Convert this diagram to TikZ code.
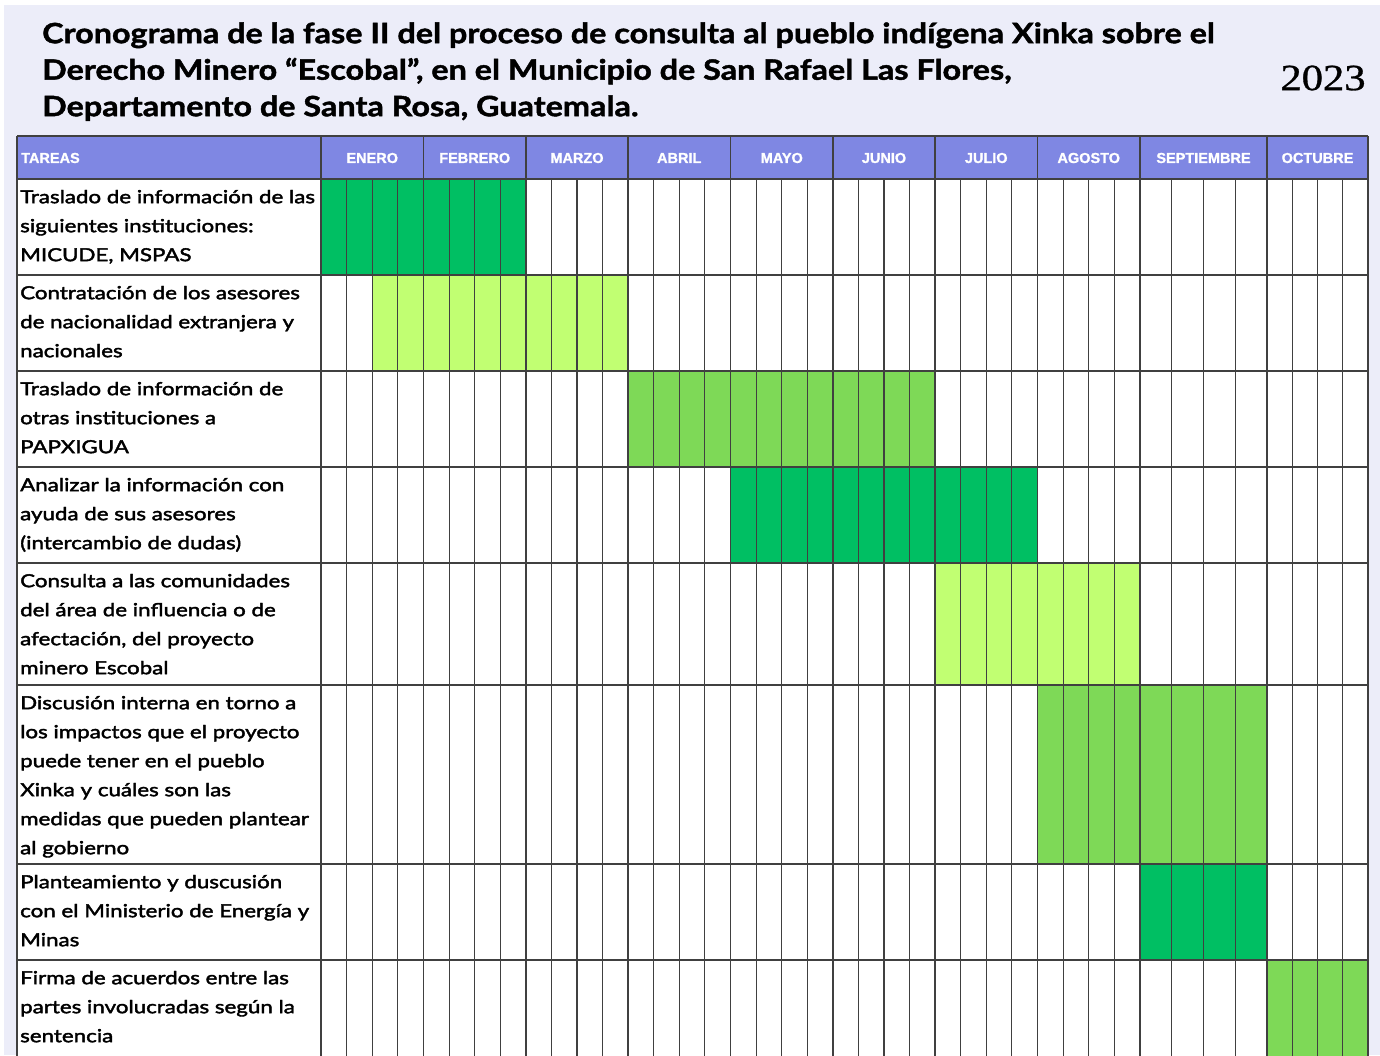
\documentclass[tikz,border=0pt]{standalone}
\usepackage{fontspec}
\setmainfont{Lato}
\newfontfamily\titlefont{Lato}[FakeStretch=1.155, BoldFeatures={FakeBold=1.5}]
\newfontfamily\taskfont{Lato}[FakeStretch=1.24, FakeBold=2.2]
\newfontfamily\headfont{Liberation Sans}[BoldFeatures={FakeBold=1.2}]
\newfontfamily\yearfont{Liberation Serif}[FakeBold=0.8]
\definecolor{lavanda}{HTML}{ECEDF9}
\definecolor{cabecera}{HTML}{7F87E3}
\definecolor{verdeosc}{HTML}{00BF63}
\definecolor{verdeclaro}{HTML}{C1FF72}
\definecolor{verdemed}{HTML}{7ED957}
\newcommand{\st}{\rule{0pt}{16pt}}
\tikzset{
  tarea/.style={anchor=north west, inner sep=0pt, align=left,
    font=\taskfont\fontsize{18}{29}\selectfont},
  mes/.style={text=white, inner sep=0pt, font=\headfont\bfseries\fontsize{14.5}{14.5}\selectfont},
  rejilla/.style={draw=black!75, line width=1.2pt},
}

\begin{document}
\begin{tikzpicture}[x=1pt,y=-1pt]
  \useasboundingbox (0,0) rectangle (1380,1055);
  \fill[lavanda] (4,5) rectangle (1380,1055);
  % titulo y anio
  \node[anchor=north west, inner sep=0pt, align=left,
        font=\titlefont\bfseries\fontsize{28}{36.5}\selectfont] (titulo) at (42,21)
       {\rule{0pt}{22pt}Cronograma de la fase II del proceso de consulta al pueblo indígena Xinka sobre el\\
        Derecho Minero “Escobal”, en el Municipio de San Rafael Las Flores,\\
        Departamento de Santa Rosa, Guatemala.};
  \node[font=\yearfont\fontsize{37}{37}\selectfont, xscale=1.15] (anio) at (1323,78) {2023};
  % cabecera
  \fill[white] (17,179) rectangle (1368,1060);
  \fill[cabecera] (17,136) rectangle (1368,179);
  \node[mes, anchor=west] (tareas) at (21,158) {TAREAS};
  \foreach \m/\a/\b in {ENERO/321/423.5, FEBRERO/423.5/526, MARZO/526/628, ABRIL/628/730.5,
                        MAYO/730.5/833, JUNIO/833/935, JULIO/935/1037.5, AGOSTO/1037.5/1140,
                        SEPTIEMBRE/1140/1267, OCTUBRE/1267/1368}
    \node[mes] (\m) at ({(\a+\b)/2},158) {\m};
  % barras
  \foreach \a/\b/\t/\u/\c in {321/526/179/275/verdeosc, 372.25/628/275/371/verdeclaro,
                              628/935/371/467/verdemed, 730.5/1037.5/467/563/verdeosc,
                              935/1140/563/685/verdeclaro, 1037.5/1267/685/864/verdemed,
                              1140/1267/864/960/verdeosc, 1267/1368/960/1060/verdemed}
    \fill[\c] (\a,\t) rectangle (\b,\u);
  % rejilla
  \foreach \y in {136,179,275,371,467,563,685,864,960}
    \draw[rejilla] (17,\y) -- (1368,\y);
  \foreach \x in {17,321,1368}
    \draw[rejilla] (\x,136) -- (\x,1060);
  \foreach \a/\b in {321/423.5, 423.5/526, 526/628, 628/730.5, 730.5/833, 833/935,
                     935/1037.5, 1037.5/1140, 1140/1267, 1267/1368} {
    \draw[rejilla] (\a,136) -- (\a,1060);
    \foreach \k in {1,2,3}
      \draw[rejilla] ({\a+\k*(\b-\a)/4},179) -- ({\a+\k*(\b-\a)/4},1060);
  }
  % tareas
  \node[tarea] (t1) at (20,187) {\st Traslado de información de las\\ siguientes instituciones:\\ MICUDE, MSPAS};
  \node[tarea] (t2) at (20,283) {\st Contratación de los asesores\\ de nacionalidad extranjera y\\ nacionales};
  \node[tarea] (t3) at (20,379) {\st Traslado de información de\\ otras instituciones a\\ PAPXIGUA};
  \node[tarea] (t4) at (20,475) {\st Analizar la información con\\ ayuda de sus asesores\\ (intercambio de dudas)};
  \node[tarea] (t5) at (20,571) {\st Consulta a las comunidades\\ del área de influencia o de\\ afectación, del proyecto\\ minero Escobal};
  \node[tarea] (t6) at (20,693) {\st Discusión interna en torno a\\ los impactos que el proyecto\\ puede tener en el pueblo\\ Xinka y cuáles son las\\ medidas que pueden plantear\\ al gobierno};
  \node[tarea] (t7) at (20,872) {\st Planteamiento y duscusión\\ con el Ministerio de Energía y\\ Minas};
  \node[tarea] (t8) at (20,968) {\st Firma de acuerdos entre las\\ partes involucradas según la\\ sentencia};
\end{tikzpicture}
\end{document}
